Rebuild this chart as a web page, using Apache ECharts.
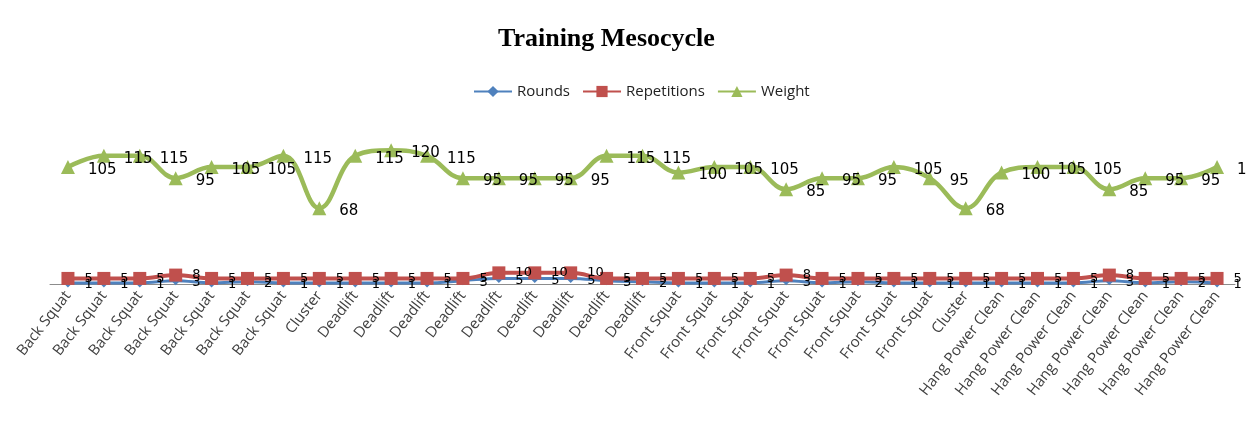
<!DOCTYPE html>
<html>
<head>
<meta charset="utf-8">
<script src="https://cdn.jsdelivr.net/npm/echarts@6/dist/echarts.min.js"></script>
<style>html,body{margin:0;padding:0;background:#fff}#c{width:1247px;height:430px}</style>
</head>
<body>
<div id="c"></div>
<script>
const categories = [
  'Back Squat','Back Squat','Back Squat','Back Squat','Back Squat','Back Squat','Back Squat',
  'Cluster',
  'Deadlift','Deadlift','Deadlift','Deadlift','Deadlift','Deadlift','Deadlift','Deadlift','Deadlift',
  'Front Squat','Front Squat','Front Squat','Front Squat','Front Squat','Front Squat','Front Squat','Front Squat',
  'Cluster',
  'Hang Power Clean','Hang Power Clean','Hang Power Clean','Hang Power Clean','Hang Power Clean','Hang Power Clean','Hang Power Clean'
];
const rounds = [1,1,1,3,1,2,1, 1, 1,1,1,3,5,5,5,3,2, 1,1,1,3,1,2,1,1, 1, 1,1,1,3,1,2,1];
const repetitions = [5,5,5,8,5,5,5, 5, 5,5,5,5,10,10,10,5,5, 5,5,5,8,5,5,5,5, 5, 5,5,5,8,5,5,5];
const weight = [105,115,115,95,105,105,115, 68, 115,120,115,95,95,95,95,115,115, 100,105,105,85,95,95,105,95, 68, 100,105,105,85,95,95,105];

const chart = echarts.init(document.getElementById('c'), null, {renderer: 'canvas'});
const lblFont = {fontFamily: 'DejaVu Sans', fontSize: 13, color: '#000'};
chart.setOption({
  animation: false,
  backgroundColor: '#fff',
  title: {
    text: 'Training Mesocycle', left: 493, top: 21,
    textStyle: {fontFamily: 'Liberation Serif', fontWeight: 'bold', fontSize: 26, color: '#000'}
  },
  legend: {
    top: 79, left: 468, itemGap: 12, itemWidth: 38, itemHeight: 14,
    textStyle: {fontFamily: 'Open Sans', fontSize: 15, color: '#222'},
    data: ['Rounds','Repetitions','Weight']
  },
  grid: {left: 50, right: 12, top: 128, bottom: 146},
  xAxis: {
    type: 'category', data: categories, boundaryGap: true,
    axisLine: {lineStyle: {color: '#8c8c8c', width: 1}},
    axisTick: {show: false},
    axisLabel: {rotate: 52, interval: 0, margin: 9, fontFamily: 'Open Sans', fontSize: 15, color: '#404040'}
  },
  yAxis: {type: 'value', min: 0, max: 140, show: false, splitLine: {show: false}},
  series: [
    {
      name: 'Rounds', type: 'line', data: rounds, smooth: 0.4,
      symbol: 'diamond', symbolSize: 9,
      lineStyle: {color: '#4F81BD', width: 3},
      itemStyle: {color: '#4F81BD'},
      label: {show: true, position: 'right', distance: 12, offset: [0, 2], ...lblFont}
    },
    {
      name: 'Repetitions', type: 'line', data: repetitions, smooth: 0.4,
      symbol: 'rect', symbolSize: 13,
      lineStyle: {color: '#C0504D', width: 4},
      itemStyle: {color: '#C0504D'},
      label: {show: true, position: 'right', distance: 10, offset: [0, 0], ...lblFont}
    },
    {
      name: 'Weight', type: 'line', data: weight, smooth: 0.4,
      symbol: 'triangle', symbolSize: 14,
      lineStyle: {color: '#9BBB59', width: 4.5},
      itemStyle: {color: '#9BBB59'},
      label: {show: true, position: 'right', distance: 13, offset: [0, 3], fontFamily: 'DejaVu Sans', fontSize: 15, color: '#000'}
    }
  ]
});
</script>
</body>
</html>
